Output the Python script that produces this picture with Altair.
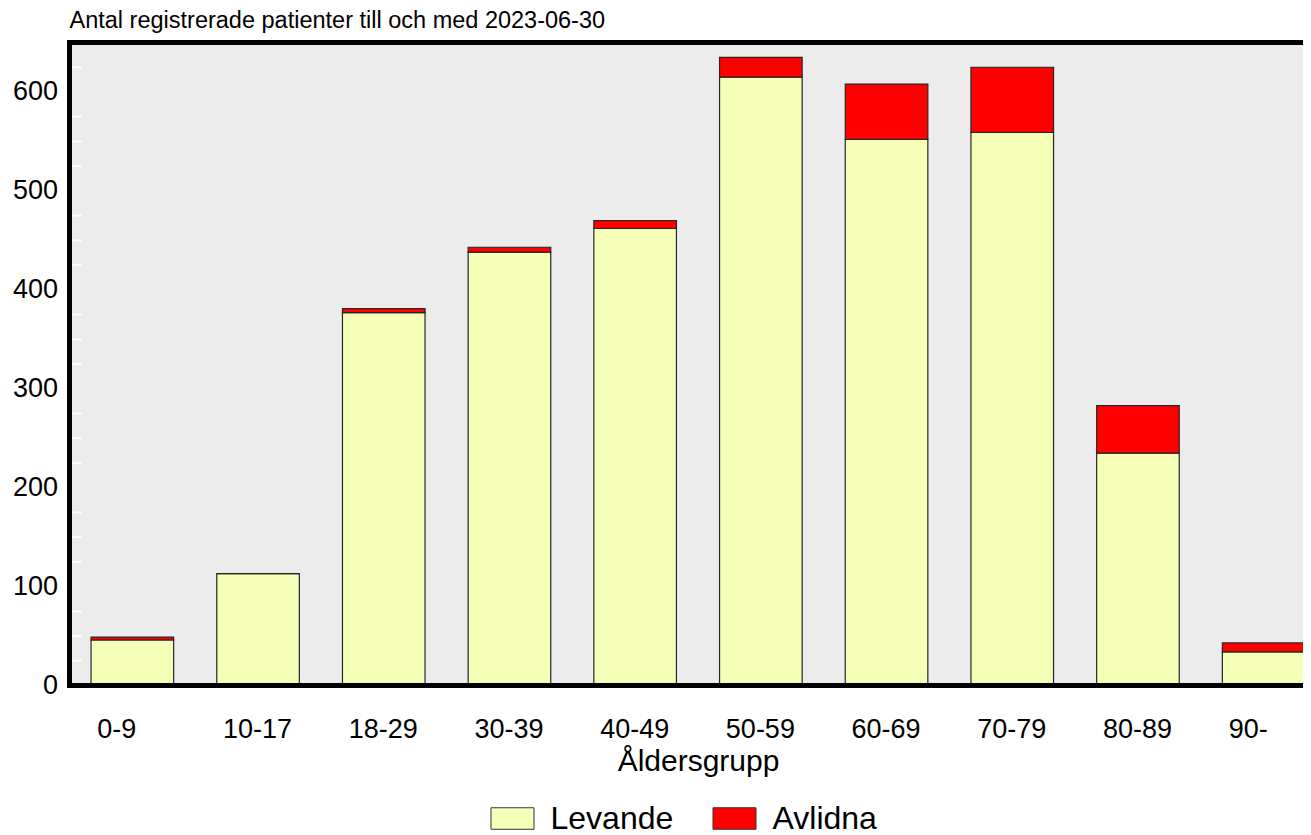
import altair as alt
import pandas as pd

age_groups = ["0-9", "10-17", "18-29", "30-39", "40-49", "50-59", "60-69", "70-79", "80-89", "90-"]
levande = [46, 113, 377, 438, 462, 615, 552, 559, 235, 34]
avlidna = [3, 0, 4, 5, 8, 20, 56, 66, 48, 9]
series = ["Levande", "Avlidna"]
colors = ["#F5FFB8", "#FF0000"]
y_ticks = [0, 100, 200, 300, 400, 500, 600]
minor_ticks = [25, 50, 75, 125, 150, 175, 225, 250, 275, 325, 350, 375,
               425, 450, 475, 525, 550, 575, 625]
title_text = "Antal registrerade patienter till och med 2023-06-30"

rows = []
for i, g in enumerate(age_groups):
    rows.append({"grupp": g, "status": "Levande", "antal": levande[i], "ord": 0})
    rows.append({"grupp": g, "status": "Avlidna", "antal": avlidna[i], "ord": 1})
df = pd.DataFrame(rows)
ticks_df = pd.DataFrame({"v": minor_ticks})
one = pd.DataFrame({"d": [0]})

FONT = "Liberation Sans"
W = 1233       # view width (fits the page)
XR = 1257      # band range (extends past the window edge like the original)
H = 643

bg = alt.Chart(one).mark_rect(color="#ECECEC").encode(
    x=alt.value(0), x2=alt.value(XR), y=alt.value(0), y2=alt.value(H)
)

bars = alt.Chart(df).mark_bar(stroke="#262626", strokeWidth=1.2).encode(
    x=alt.X("grupp:N", sort=age_groups,
            scale=alt.Scale(paddingInner=0.343, paddingOuter=0.1715, range=[0, XR]),
            axis=alt.Axis(title="Åldersgrupp", labelAngle=0, labelAlign="left",
                          labelOffset=-35, labelFontSize=27, labelPadding=31,
                          labelColor="black", labelFont=FONT,
                          titleFontSize=30, titleFont=FONT, titleFontWeight="normal",
                          titleColor="black", titlePadding=4, titleX=628.5,
                          ticks=False, tickSize=0, domain=False, grid=False)),
    y=alt.Y("antal:Q", stack="zero",
            scale=alt.Scale(domain=[0, 650], nice=False),
            axis=alt.Axis(title=None, values=y_ticks,
                          labelFontSize=27, labelFont=FONT, labelColor="black",
                          labelPadding=12, ticks=False, tickSize=0, domain=False,
                          grid=True, gridColor="white", gridWidth=2)),
    color=alt.Color("status:N", sort=series,
                    scale=alt.Scale(domain=series, range=colors),
                    legend=alt.Legend(title=None, orient="none", direction="horizontal",
                                      legendX=421, legendY=754,
                                      symbolType="M-1,-0.5H1V0.5H-1Z", symbolSize=1849,
                                      symbolStrokeColor="#333", symbolStrokeWidth=1,
                                      labelFontSize=32, labelFont=FONT, labelColor="black",
                                      labelOffset=16, columnPadding=37)),
    order=alt.Order("ord:Q"),
)

minor = alt.Chart(ticks_df).mark_rule(color="white", strokeWidth=2).encode(
    y=alt.Y("v:Q"),
    x=alt.value(3),
    x2=alt.value(12),
)

frame_left = alt.Chart(one).mark_rule(color="black", strokeWidth=5).encode(
    x=alt.value(0), y=alt.value(-2.5), y2=alt.value(H + 2.5)
)
frame_top = alt.Chart(one).mark_rule(color="black", strokeWidth=5).encode(
    x=alt.value(-2.5), x2=alt.value(XR), y=alt.value(0)
)
frame_bottom = alt.Chart(one).mark_rule(color="black", strokeWidth=5).encode(
    x=alt.value(-2.5), x2=alt.value(XR), y=alt.value(H)
)

chart = alt.layer(bg, minor, bars, frame_left, frame_top, frame_bottom).properties(
    width=W,
    height=H,
    background="white",
    autosize=alt.AutoSizeParams(type="none"),
    padding={"left": 61.5, "top": 34.5, "right": 0, "bottom": 160},
    title=alt.Title(title_text, anchor="start", frame="group", fontSize=23.5,
                    font=FONT, fontWeight="normal", color="black", offset=5),
).configure_view(
    fill=None, stroke=None
)

chart.save("out.html", embed_options={"renderer": "svg", "actions": False})
